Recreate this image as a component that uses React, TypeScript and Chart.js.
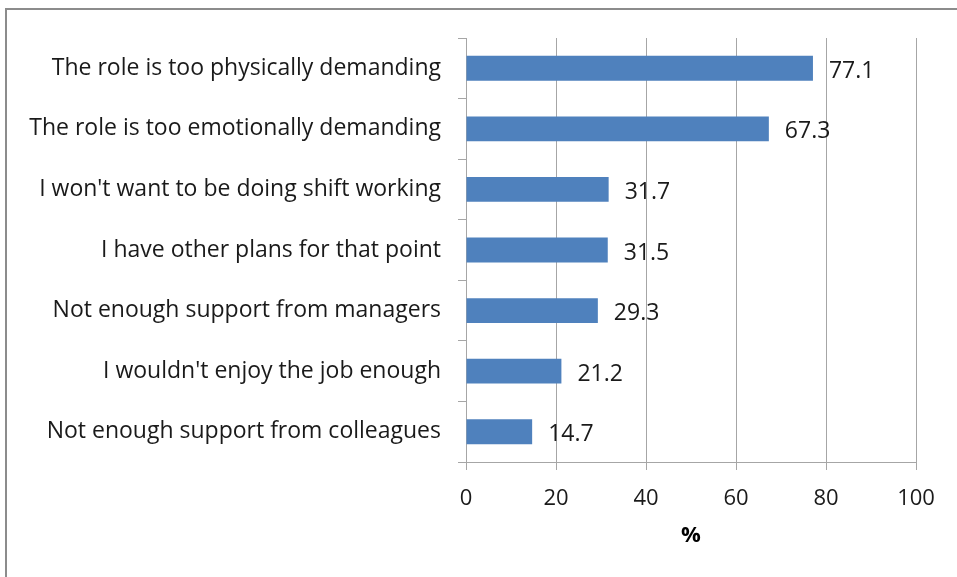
import React, { useEffect, useRef } from "react";
import { Chart, registerables } from "chart.js";

Chart.register(...registerables);

const categories = [
  "The role is too physically demanding",
  "The role is too emotionally demanding",
  "I won't want to be doing shift working",
  "I have other plans for that point",
  "Not enough support from managers",
  "I wouldn't enjoy the job enough",
  "Not enough support from colleagues",
];
const values = [77.1, 67.3, 31.7, 31.5, 29.3, 21.2, 14.7];
const xTicks = [0, 20, 40, 60, 80, 100];
const axisTitle = "%";

const FONT = "'Open Sans', 'Noto Sans', sans-serif";
const FS = 23;
const GRID = "#a6a6a6";

const valueLabels = {
  id: "valueLabels",
  afterDatasetsDraw(chart: any) {
    const ctx = chart.ctx;
    const meta = chart.getDatasetMeta(0);
    ctx.save();
    ctx.font = `${FS}px ${FONT}`;
    ctx.fillStyle = "#1a1a1a";
    ctx.textAlign = "left";
    ctx.textBaseline = "middle";
    meta.data.forEach((bar: any, i: number) => {
      const v = chart.data.datasets[0].data[i];
      ctx.fillText(v.toFixed(1), bar.x + 16, bar.y + 3);
    });
    ctx.restore();
  },
};

export default function App() {
  const ref = useRef<HTMLCanvasElement>(null);
  useEffect(() => {
    if (!ref.current) return;
    const chart = new Chart(ref.current, {
      type: "bar",
      data: {
        labels: categories,
        datasets: [
          {
            data: values,
            backgroundColor: "#4f81bd",
            borderWidth: 0,
            categoryPercentage: 1,
            barPercentage: 0.41,
          },
        ],
      },
      options: {
        indexAxis: "y",
        animation: false,
        responsive: false,
        layout: { padding: { top: 38, right: 41, left: 0, bottom: 28 } },
        plugins: { legend: { display: false }, tooltip: { enabled: false } },
        scales: {
          x: {
            min: 0,
            max: 100,
            afterBuildTicks(scale: any) {
              scale.ticks = xTicks.map((v) => ({ value: v }));
            },
            afterFit(scale: any) {
              scale.height = 549 - 462;
            },
            grid: { color: GRID, tickLength: 8, lineWidth: 1 },
            border: { color: GRID },
            ticks: {
              color: "#1a1a1a",
              font: { family: FONT, size: 22 },
              padding: 16,
            },
            title: {
              display: true,
              text: axisTitle,
              color: "#000",
              font: { family: FONT, size: 22, weight: "bold" },
              padding: { top: 6, bottom: 0 },
            },
          },
          y: {
            afterFit(scale: any) {
              scale.width = 466;
            },
            grid: { drawOnChartArea: false, color: GRID, tickLength: 8, offset: true },
            border: { color: GRID },
            ticks: {
              color: "#1a1a1a",
              font: { family: FONT, size: FS },
              padding: 17,
              autoSkip: false,
            },
          },
        },
      },
      plugins: [valueLabels],
    });
    return () => chart.destroy();
  }, []);
  return (
    <div style={{ position: "absolute", left: 0, top: 0, width: 957, height: 577, overflow: "hidden", background: "#fff" }}>
      <div
        style={{
          position: "absolute",
          left: 5,
          top: 8,
          width: 970,
          height: 590,
          border: "2px solid #8c8c8c",
        }}
      />
      <canvas ref={ref} width={957} height={577} style={{ position: "absolute", left: 0, top: 0 }} />
    </div>
  );
}
